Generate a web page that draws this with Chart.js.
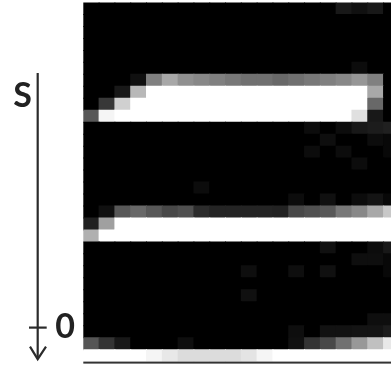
<!DOCTYPE html>
<html>
<head>
<meta charset="utf-8">
<script src="https://cdn.jsdelivr.net/npm/chart.js@4/dist/chart.umd.min.js"></script>
<style>
  html, body { margin: 0; padding: 0; background: #fff; }
  #wrap { width: 391px; height: 367px; overflow: hidden; }
</style>
</head>
<body>
<div id="wrap"><canvas id="myChart" width="391" height="367"></canvas></div>
<script>
// grid: 20 columns (last one cut by the frame), 30 rows top to bottom
const columns = [0, 1, 2, 3, 4, 5, 6, 7, 8, 9, 10, 11, 12, 13, 14, 15, 16, 17, 18, 19];
const rows = [0, 1, 2, 3, 4, 5, 6, 7, 8, 9, 10, 11, 12, 13, 14, 15, 16, 17, 18, 19, 20, 21, 22, 23, 24, 25, 26, 27, 28, 29];
const axisLabelTop = 'S';
const axisTickLabel = '0';

// grey level of every cell, 0 = black, 255 = white
const intensity = [
  [0, 0, 0, 0, 0, 0, 0, 0, 0, 0, 0, 0, 0, 0, 0, 0, 24, 16, 24, 0],
  [0, 0, 0, 0, 0, 0, 0, 0, 0, 0, 0, 0, 0, 0, 0, 0, 0, 0, 0, 0],
  [0, 0, 0, 0, 0, 0, 0, 0, 0, 0, 0, 0, 0, 0, 0, 0, 0, 0, 0, 0],
  [0, 0, 0, 0, 0, 0, 0, 0, 0, 0, 0, 0, 0, 0, 0, 0, 0, 0, 0, 0],
  [0, 0, 0, 0, 0, 0, 0, 0, 0, 0, 0, 0, 0, 0, 0, 0, 0, 0, 0, 0],
  [0, 0, 0, 0, 0, 0, 0, 0, 0, 0, 0, 0, 0, 0, 0, 0, 0, 12, 0, 0],
  [0, 0, 0, 16, 128, 168, 144, 136, 128, 120, 112, 112, 104, 112, 120, 128, 136, 150, 128, 0],
  [0, 0, 24, 184, 255, 255, 255, 255, 255, 255, 255, 255, 255, 255, 255, 255, 255, 255, 168, 0],
  [0, 56, 208, 255, 255, 255, 255, 255, 255, 255, 255, 255, 255, 255, 255, 255, 255, 255, 104, 0],
  [88, 245, 255, 255, 255, 255, 255, 255, 255, 255, 255, 255, 255, 255, 255, 255, 255, 224, 24, 0],
  [0, 0, 0, 0, 0, 0, 0, 0, 0, 0, 0, 0, 0, 0, 12, 0, 12, 24, 28, 32],
  [0, 0, 0, 0, 0, 0, 0, 0, 0, 0, 0, 0, 0, 0, 0, 14, 0, 0, 12, 8],
  [0, 0, 0, 0, 0, 0, 0, 0, 0, 0, 0, 0, 0, 0, 12, 0, 12, 0, 0, 8],
  [0, 0, 0, 0, 0, 0, 0, 0, 0, 0, 0, 0, 0, 0, 0, 0, 0, 12, 0, 0],
  [0, 0, 0, 0, 0, 0, 0, 0, 0, 0, 0, 0, 0, 0, 0, 0, 0, 0, 0, 0],
  [0, 0, 0, 0, 0, 0, 0, 12, 0, 0, 0, 0, 0, 0, 0, 0, 0, 0, 0, 0],
  [0, 0, 0, 0, 0, 0, 0, 0, 0, 0, 0, 0, 0, 12, 0, 16, 0, 12, 20, 8],
  [0, 16, 88, 104, 88, 72, 80, 44, 36, 36, 36, 36, 34, 72, 80, 88, 120, 136, 168, 200],
  [32, 160, 255, 255, 255, 255, 255, 255, 255, 255, 255, 255, 255, 255, 255, 255, 255, 255, 255, 255],
  [176, 255, 255, 255, 255, 255, 255, 255, 255, 255, 255, 255, 255, 255, 255, 255, 255, 255, 255, 255],
  [0, 0, 0, 0, 0, 0, 0, 0, 0, 0, 0, 0, 0, 0, 0, 16, 0, 0, 12, 24],
  [0, 0, 0, 0, 0, 0, 0, 0, 0, 0, 0, 0, 0, 0, 0, 0, 0, 14, 14, 8],
  [0, 0, 0, 0, 0, 0, 0, 0, 0, 0, 14, 0, 0, 14, 0, 16, 0, 0, 0, 8],
  [0, 0, 0, 0, 0, 0, 0, 0, 0, 0, 0, 0, 0, 0, 0, 0, 0, 0, 0, 0],
  [0, 0, 0, 0, 0, 0, 0, 0, 0, 0, 16, 0, 0, 0, 0, 0, 0, 0, 0, 0],
  [0, 0, 0, 0, 0, 0, 0, 0, 0, 0, 0, 0, 0, 0, 0, 0, 0, 0, 0, 0],
  [0, 0, 0, 0, 0, 0, 0, 0, 0, 0, 0, 0, 0, 0, 0, 0, 0, 0, 14, 14],
  [0, 0, 0, 0, 0, 0, 0, 0, 0, 0, 0, 0, 0, 14, 0, 18, 18, 20, 20, 28],
  [85, 51, 24, 0, 0, 0, 14, 0, 0, 0, 0, 0, 0, 16, 51, 72, 112, 152, 192, 232],
  [255, 255, 255, 255, 245, 232, 220, 220, 220, 220, 228, 245, 255, 255, 255, 255, 255, 255, 255, 255]
];

const cells = [];
const colors = [];
rows.forEach(r => {
  columns.forEach(c => {
    cells.push({x: c + 0.5, y: [r, r + 1]});
    const v = intensity[r][c];
    colors.push(`rgb(${v},${v},${v})`);
  });
});

// the hand drawn axis on the left: arrow down, tick with "0"
// plus the thin base line under the grid
const arrowAxis = {
  id: 'arrowAxis',
  afterDraw(chart) {
    const ctx = chart.ctx;
    const {left, right, bottom} = chart.chartArea;
    const ax = left - 45.6;
    const tickY = bottom - 34;
    ctx.save();
    ctx.fillStyle = '#333';
    ctx.fillRect(left, bottom, right - left, 2);

    ctx.strokeStyle = '#2b2b2b';
    ctx.lineWidth = 2.2;
    ctx.beginPath();
    ctx.moveTo(ax, 73);
    ctx.lineTo(ax, bottom - 3);
    ctx.stroke();
    ctx.beginPath();
    ctx.moveTo(ax - 7.7, bottom - 15);
    ctx.lineTo(ax, bottom - 2.5);
    ctx.lineTo(ax + 8.3, bottom - 15);
    ctx.stroke();
    ctx.beginPath();
    ctx.moveTo(ax - 8.7, tickY);
    ctx.lineTo(ax + 9, tickY);
    ctx.stroke();
    ctx.fillStyle = '#222';
    ctx.font = 'bold 34px Lato';
    ctx.textBaseline = 'alphabetic';
    ctx.textAlign = 'left';
    ctx.fillText(axisTickLabel, ax + 17.5, tickY + 10.5);
    ctx.fillText(axisLabelTop, ax - 24.5, 107);
    ctx.restore();
  }
};

const config = {
  type: 'bar',
  data: {
    datasets: [{
      data: cells,
      backgroundColor: colors,
      borderWidth: 0,
      inflateAmount: 0.5,
      barPercentage: 1,
      categoryPercentage: 1
    }]
  },
  options: {
    responsive: false,
    animation: false,
    layout: {padding: {left: 83.3, top: 2.5, right: 0, bottom: 5.4}},
    plugins: {legend: {display: false}, tooltip: {enabled: false}},
    scales: {
      x: {
        type: 'linear',
        min: 0,
        max: 19.47,
        offset: false,
        display: false
      },
      y: {
        type: 'linear',
        min: 0,
        max: 30,
        reverse: true,
        display: false
      }
    }
  },
  plugins: [arrowAxis]
};

const myChart = new Chart(document.getElementById('myChart'), config);
</script>
</body>
</html>
